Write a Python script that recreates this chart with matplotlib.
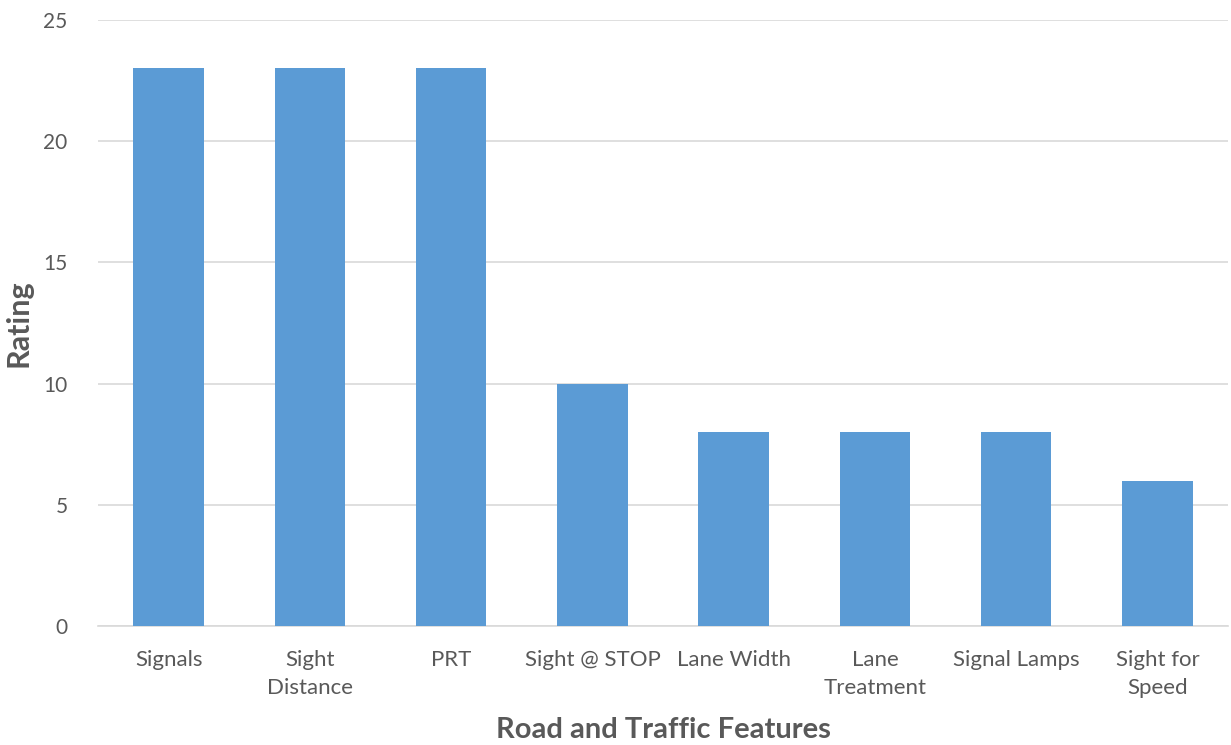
import matplotlib.pyplot as plt
import numpy as np

categories = ["Signals", "Sight\nDistance", "PRT", "Sight @ STOP", "Lane Width",
              "Lane\nTreatment", "Signal Lamps", "Sight for\nSpeed"]
ratings = [23, 23, 23, 10, 8, 8, 8, 6]
y_ticks = [0, 5, 10, 15, 20, 25]

plt.rcParams["font.family"] = ["Lato", "DejaVu Sans"]
text_color = "#595959"

fig = plt.figure(figsize=(12.31, 7.45), dpi=100)
ax = fig.add_axes([0.0796, 0.1597, 0.918, 0.8135])

x = np.arange(len(categories))
ax.bar(x, ratings, width=0.5, color="#5B9BD5", zorder=3)

ax.set_xlim(-0.5, len(categories) - 0.5)
ax.set_ylim(0, 25)
ax.set_yticks(y_ticks)
ax.set_xticks(x)
ax.set_xticklabels(categories, fontsize=16, color=text_color, linespacing=1.5)
ax.tick_params(axis="y", labelsize=15, labelcolor=text_color, length=0, pad=22)
ax.tick_params(axis="x", length=0, pad=17)

ax.yaxis.grid(True, color="#D9D9D9", linewidth=1.2, zorder=0)
for side in ["top", "right", "left"]:
    ax.spines[side].set_visible(False)
ax.spines["bottom"].set_color("#D9D9D9")
ax.spines["bottom"].set_linewidth(1.2)

ax.set_xlabel("Road and Traffic Features", fontsize=21, fontweight="bold",
              color=text_color, labelpad=14)
ax.set_ylabel("Rating", fontsize=22, fontweight="bold", color=text_color, labelpad=8)

fig.savefig("out.png", dpi=100)
